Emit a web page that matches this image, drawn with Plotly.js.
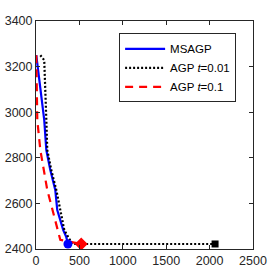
<!DOCTYPE html>
<html>
<head>
<meta charset="utf-8">
<script src="https://cdn.plot.ly/plotly-3.0.1.min.js"></script>
<style>html,body{margin:0;padding:0;background:#fff;}#chart{width:280px;height:280px;}</style>
</head>
<body>
<div id="chart"></div>
<script>
const msagpX = [3, 95, 119, 165, 222, 245, 314, 349, 368];
const msagpY = [3250, 2965, 2834, 2746, 2659, 2571, 2483, 2452, 2422];
const agp001X = [50, 95, 119, 130, 176, 234, 326, 418, 2063];
const agp001Y = [3250, 3228, 2965, 2834, 2746, 2659, 2483, 2422, 2422];
const agp01X = [3, 15, 50, 130, 280, 521];
const agp01Y = [3250, 2965, 2834, 2659, 2440, 2422];
const seriesNames = ['MSAGP', 'AGP <i>t</i>=0.01', 'AGP <i>t</i>=0.1'];
const xTicks = [0, 500, 1000, 1500, 2000, 2500];
const yTicks = [2400, 2600, 2800, 3000, 3200, 3400];

const last = a => [a[a.length - 1]];
const font = {family: 'Liberation Sans, Arial, sans-serif', size: 12.5, color: '#262626'};

const traces = [
  {x: msagpX, y: msagpY, mode: 'lines', name: seriesNames[0],
   line: {color: '#0000ff', width: 2.2}},
  {x: agp001X, y: agp001Y, mode: 'lines', name: seriesNames[1],
   line: {color: '#000000', width: 2.2, dash: '2px,2px'}},
  {x: agp01X, y: agp01Y, mode: 'lines', name: seriesNames[2],
   line: {color: '#ff0000', width: 2.2, dash: '8px,6px'}},
  {x: last(msagpX), y: last(msagpY), mode: 'markers', showlegend: false,
   marker: {color: '#0000ff', symbol: 'circle', size: 9}},
  {x: last(agp001X), y: last(agp001Y), mode: 'markers', showlegend: false,
   marker: {color: '#000000', symbol: 'square', size: 7}},
  {x: last(agp01X), y: last(agp01Y), mode: 'markers', showlegend: false,
   marker: {color: '#ff0000', symbol: 'diamond', size: 10}}
];

const axisCommon = {
  showgrid: false, zeroline: false, showline: true, mirror: 'ticks',
  linecolor: '#262626', linewidth: 1, ticks: 'inside', ticklen: 4,
  tickcolor: '#262626', tickfont: font
};

const layout = {
  width: 280, height: 280,
  margin: {l: 36, r: 27, t: 21, b: 31, pad: 0},
  paper_bgcolor: '#fff', plot_bgcolor: '#fff',
  font: font,
  xaxis: Object.assign({}, axisCommon, {range: [0, 2500], tickvals: xTicks, ticktext: xTicks.map(String)}),
  yaxis: Object.assign({}, axisCommon, {range: [2400, 3400], tickvals: yTicks, ticktext: yTicks.map(String)}),
  showlegend: true,
  legend: {
    x: 0.383, y: 0.946, xanchor: 'left', yanchor: 'top',
    bgcolor: '#fff', bordercolor: '#262626', borderwidth: 1,
    font: {family: 'Liberation Sans, Arial, sans-serif', size: 11.5, color: '#000'},
    itemwidth: 40, tracegroupgap: 0
  }
};

Plotly.newPlot('chart', traces, layout, {staticPlot: true, displayModeBar: false});
</script>
</body>
</html>
